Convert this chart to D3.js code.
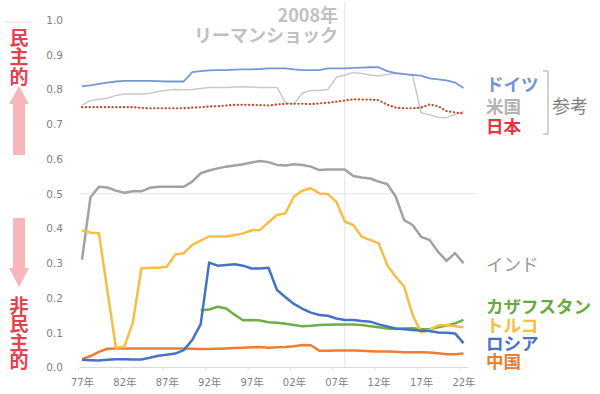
<!DOCTYPE html>
<html>
<head>
<meta charset="utf-8">
<script src="https://cdn.jsdelivr.net/npm/d3@7"></script>
<style>
    body { margin: 0; background: #fff; }
    svg text { font-family: "Noto Sans CJK JP", "Noto Sans", sans-serif; }
</style>
</head>
<body>
<div id="chart"></div>
<script>
// years on the category axis
let years = d3.range(1977, 2023);
let tickYears = [1977, 1982, 1987, 1992, 1997, 2002, 2007, 2012, 2017, 2022];
let yTicks = [0, 0.1, 0.2, 0.3, 0.4, 0.5, 0.6, 0.7, 0.8, 0.9, 1.0];

// values, 1977 .. 2022
let germany = [0.81, 0.812, 0.816, 0.82, 0.823, 0.825, 0.825, 0.825, 0.825, 0.824, 0.823, 0.823, 0.823,
    0.85, 0.853, 0.855, 0.856, 0.856, 0.857, 0.858, 0.858, 0.859, 0.861,
    0.861, 0.861, 0.858, 0.856, 0.856, 0.856, 0.861, 0.861, 0.861, 0.862,
    0.863, 0.864, 0.864, 0.853, 0.847, 0.844, 0.842, 0.84, 0.832, 0.829, 0.826, 0.82, 0.804];
let usa = [0.755, 0.768, 0.772, 0.775, 0.783, 0.787, 0.787, 0.787, 0.789, 0.794, 0.798, 0.80, 0.799,
    0.80, 0.803, 0.806, 0.806, 0.806, 0.807, 0.808, 0.807, 0.806, 0.806,
    0.806, 0.762, 0.758, 0.79, 0.797, 0.797, 0.80, 0.835, 0.842, 0.849,
    0.846, 0.842, 0.839, 0.843, 0.847, 0.845, 0.84, 0.733, 0.727, 0.72, 0.719, 0.728, 0.736];
let japan = [0.749, 0.749, 0.749, 0.749, 0.749, 0.749, 0.749, 0.747, 0.746, 0.746, 0.746, 0.746, 0.746,
    0.748, 0.749, 0.751, 0.752, 0.754, 0.756, 0.756, 0.756, 0.755, 0.754,
    0.757, 0.759, 0.759, 0.759, 0.758, 0.76, 0.762, 0.765, 0.768, 0.772,
    0.771, 0.771, 0.769, 0.756, 0.748, 0.746, 0.746, 0.748, 0.757, 0.752, 0.738, 0.734, 0.731];
let india = [0.31, 0.49, 0.52, 0.518, 0.509, 0.503, 0.507, 0.507, 0.517, 0.52, 0.52, 0.52, 0.52,
    0.535, 0.559, 0.567, 0.573, 0.578, 0.581, 0.585, 0.59, 0.594, 0.591,
    0.583, 0.581, 0.585, 0.583, 0.578, 0.568, 0.57, 0.57, 0.57, 0.551,
    0.547, 0.544, 0.535, 0.528, 0.492, 0.424, 0.41, 0.376, 0.367, 0.333, 0.307, 0.329, 0.30];
let turkey = [0.395, 0.388, 0.386, 0.22, 0.057, 0.06, 0.13, 0.285, 0.287, 0.287, 0.29, 0.325, 0.329,
    0.353, 0.365, 0.377, 0.377, 0.377, 0.381, 0.386, 0.395, 0.396, 0.418,
    0.439, 0.444, 0.492, 0.509, 0.516, 0.501, 0.499, 0.477, 0.42, 0.41,
    0.376, 0.367, 0.357, 0.295, 0.261, 0.233, 0.151, 0.101, 0.108, 0.121, 0.122, 0.119, 0.116];
let kazakhstan = [null, null, null, null, null, null, null, null, null, null, null, null, null, null,
    0.165, 0.167, 0.175, 0.17, 0.152, 0.136, 0.137, 0.135, 0.13,
    0.129, 0.126, 0.122, 0.119, 0.12, 0.122, 0.123, 0.124, 0.124, 0.124,
    0.122, 0.119, 0.116, 0.112, 0.111, 0.112, 0.113, 0.111, 0.11, 0.116, 0.121, 0.127, 0.137];
let russia = [0.022, 0.021, 0.02, 0.022, 0.024, 0.024, 0.023, 0.023, 0.028, 0.034, 0.037, 0.04, 0.05,
    0.079, 0.125, 0.302, 0.293, 0.295, 0.297, 0.293, 0.285, 0.285, 0.287,
    0.223, 0.202, 0.183, 0.169, 0.158, 0.151, 0.149, 0.141, 0.137, 0.137,
    0.134, 0.132, 0.124, 0.118, 0.112, 0.11, 0.108, 0.106, 0.105, 0.101, 0.1, 0.098, 0.07];
let china = [0.024, 0.033, 0.045, 0.054, 0.055, 0.055, 0.055, 0.055, 0.055, 0.055, 0.055, 0.055, 0.055,
    0.054, 0.053, 0.053, 0.054, 0.055, 0.056, 0.057, 0.058, 0.059, 0.057,
    0.058, 0.059, 0.061, 0.065, 0.064, 0.048, 0.048, 0.049, 0.049, 0.049,
    0.048, 0.047, 0.046, 0.046, 0.045, 0.044, 0.044, 0.044, 0.043, 0.041, 0.038, 0.038, 0.04];

let series = [
    {name: "米国", values: usa, color: "#c9c9c9", width: 1.5},
    {name: "日本", values: japan, color: "#b8532a", width: 2.2, dash: "0.3,3.5"},
    {name: "ドイツ", values: germany, color: "#7597d8", width: 1.8},
    {name: "インド", values: india, color: "#a2a2a2", width: 2.5},
    {name: "中国", values: china, color: "#ed7d31", width: 2.5},
    {name: "カザフスタン", values: kazakhstan, color: "#70ad47", width: 2.5},
    {name: "トルコ", values: turkey, color: "#f8bd45", width: 2.5},
    {name: "ロシア", values: russia, color: "#4472c4", width: 2.5}
];

// labels on the right, stacked in blocks (one text per block)
let labelBlocks = [
    [
        {text: "ドイツ", y: 0.82, color: "#7394d6", weight: "bold"},
        {text: "米国", y: 0.755, color: "#b3b3b3", weight: "bold"},
        {text: "日本", y: 0.697, color: "#e0363c", weight: "bold"}
    ],
    [
        {text: "インド", y: 0.30, color: "#9a9a9a", weight: "normal"}
    ],
    [
        {text: "カザフスタン", y: 0.18, color: "#6aa843", weight: "bold"},
        {text: "トルコ", y: 0.125, color: "#f8bd45", weight: "bold"},
        {text: "ロシア", y: 0.073, color: "#4472c4", weight: "bold"},
        {text: "中国", y: 0.022, color: "#ed7d31", weight: "bold"}
    ]
];

let width = 600, height = 394;
let svg = d3.select("#chart").append("svg")
    .attr("width", width)
    .attr("height", height);

let x = d3.scaleLinear().domain([1977, 2022]).range([82, 463.5]);
let y = d3.scaleLinear().domain([0, 1]).range([367.5, 20]);

// 0.5 gridline and the 2008 marker
svg.append("line")
    .attr("x1", 80).attr("x2", 477)
    .attr("y1", y(0.5)).attr("y2", y(0.5))
    .attr("stroke", "#e3e3e3").attr("stroke-width", 1);

svg.append("line")
    .attr("x1", x(2008)).attr("x2", x(2008))
    .attr("y1", 2).attr("y2", y(0))
    .attr("stroke", "#e3e3e3").attr("stroke-width", 1);

// x axis
let xAxis = svg.append("g")
    .attr("transform", "translate(0," + y(0) + ")")
    .call(d3.axisBottom(x)
        .tickValues(tickYears)
        .tickSize(3)
        .tickPadding(8)
        .tickFormat(d => String(d).slice(2) + "年"));
xAxis.select(".domain").attr("d", "M80,0H468").attr("stroke", "#d9d9d9");
xAxis.selectAll(".tick line").attr("stroke", "#e0e0e0").attr("transform", "translate(-4,0)");
xAxis.selectAll("text")
    .attr("fill", "#7f7f7f")
    .style("font-size", "10.5px")
    .style("font-family", "'DejaVu Sans', sans-serif");
xAxis.selectAll(".tick").each(function() {
    // kanji in the CJK font
    let t = d3.select(this).select("text");
    let s = t.text();
    t.text(null);
    t.append("tspan").text(s.slice(0, 2)).style("font-size", "10px");
    t.append("tspan").text("年").style("font-family", "'Noto Sans CJK JP'").style("font-size", "10.5px");
});

// y axis
let yAxis = svg.append("g")
    .attr("transform", "translate(66,0)")
    .call(d3.axisLeft(y).tickValues(yTicks).tickSize(0).tickPadding(3).tickFormat(d3.format(".1f")));
yAxis.select(".domain").remove();
yAxis.selectAll("text")
    .attr("fill", "#808080")
    .style("font-size", "10.5px")
    .style("font-family", "'DejaVu Sans', sans-serif");

// lines
let line = d3.line()
    .defined(d => d.v != null)
    .x(d => x(d.year))
    .y(d => y(d.v));

series.forEach(function(s) {
    let pts = years.map((yr, i) => ({year: yr, v: s.values[i]}));
    svg.append("path")
        .datum(pts)
        .attr("fill", "none")
        .attr("stroke", s.color)
        .attr("stroke-width", s.width)
        .attr("stroke-linejoin", "round")
        .attr("stroke-linecap", s.dash ? "round" : "butt")
        .attr("stroke-dasharray", s.dash || null)
        .attr("d", line);
});

// right labels
labelBlocks.forEach(function(block) {
    let t = svg.append("text")
        .attr("dominant-baseline", "central")
        .style("font-size", "17.5px");
    block.forEach(function(d) {
        t.append("tspan")
            .attr("x", 486)
            .attr("y", y(d.y))
            .attr("dominant-baseline", "central")
            .attr("fill", d.color)
            .style("font-weight", d.weight)
            .text(d.text);
    });
});

// bracket for the reference countries
svg.append("path")
    .attr("d", "M543,71H548V134H543")
    .attr("fill", "none")
    .attr("stroke", "#a6a6a6")
    .attr("stroke-width", 1);
svg.append("text")
    .attr("x", 552).attr("y", 105)
    .attr("dominant-baseline", "central")
    .attr("fill", "#7f7f7f")
    .style("font-size", "18px")
    .text("参考");

// lehman note
svg.append("text")
    .attr("x", 338).attr("y", 14)
    .attr("text-anchor", "end")
    .attr("dominant-baseline", "central")
    .attr("fill", "#c0c0c0")
    .style("font-size", "18px")
    .style("font-weight", "bold")
    .text("2008年");
svg.append("text")
    .attr("x", 338).attr("y", 34)
    .attr("text-anchor", "end")
    .attr("dominant-baseline", "central")
    .attr("fill", "#c0c0c0")
    .style("font-size", "18px")
    .style("font-weight", "bold")
    .text("リーマンショック");

// left side: democratic / non-democratic, written vertically
let red = "#e5414f", pink = "#f7b7ba";
svg.append("line").attr("x1", 5).attr("x2", 32).attr("y1", 22).attr("y2", 22)
    .attr("stroke", "#f2dcdc").attr("stroke-width", 1);
svg.append("line").attr("x1", 5).attr("x2", 32).attr("y1", 368).attr("y2", 368)
    .attr("stroke", "#f2dcdc").attr("stroke-width", 1);

svg.append("text")
    .attr("x", 19).attr("y", 28)
    .style("writing-mode", "vertical-rl")
    .attr("fill", red)
    .style("font-size", "19px")
    .style("font-weight", "bold")
    .style("letter-spacing", "0.5px")
    .text("民主的");
svg.append("text")
    .attr("x", 19).attr("y", 296)
    .style("writing-mode", "vertical-rl")
    .attr("fill", red)
    .style("font-size", "19px")
    .style("font-weight", "bold")
    .style("letter-spacing", "-0.5px")
    .text("非民主的");

// up arrow
svg.append("path")
    .attr("d", "M19,86L29,104H25V155H13V104H9Z")
    .attr("fill", pink);
// down arrow
svg.append("path")
    .attr("d", "M13,218H25V268H29L19,287L9,268H13Z")
    .attr("fill", pink);
</script>
</body>
</html>
